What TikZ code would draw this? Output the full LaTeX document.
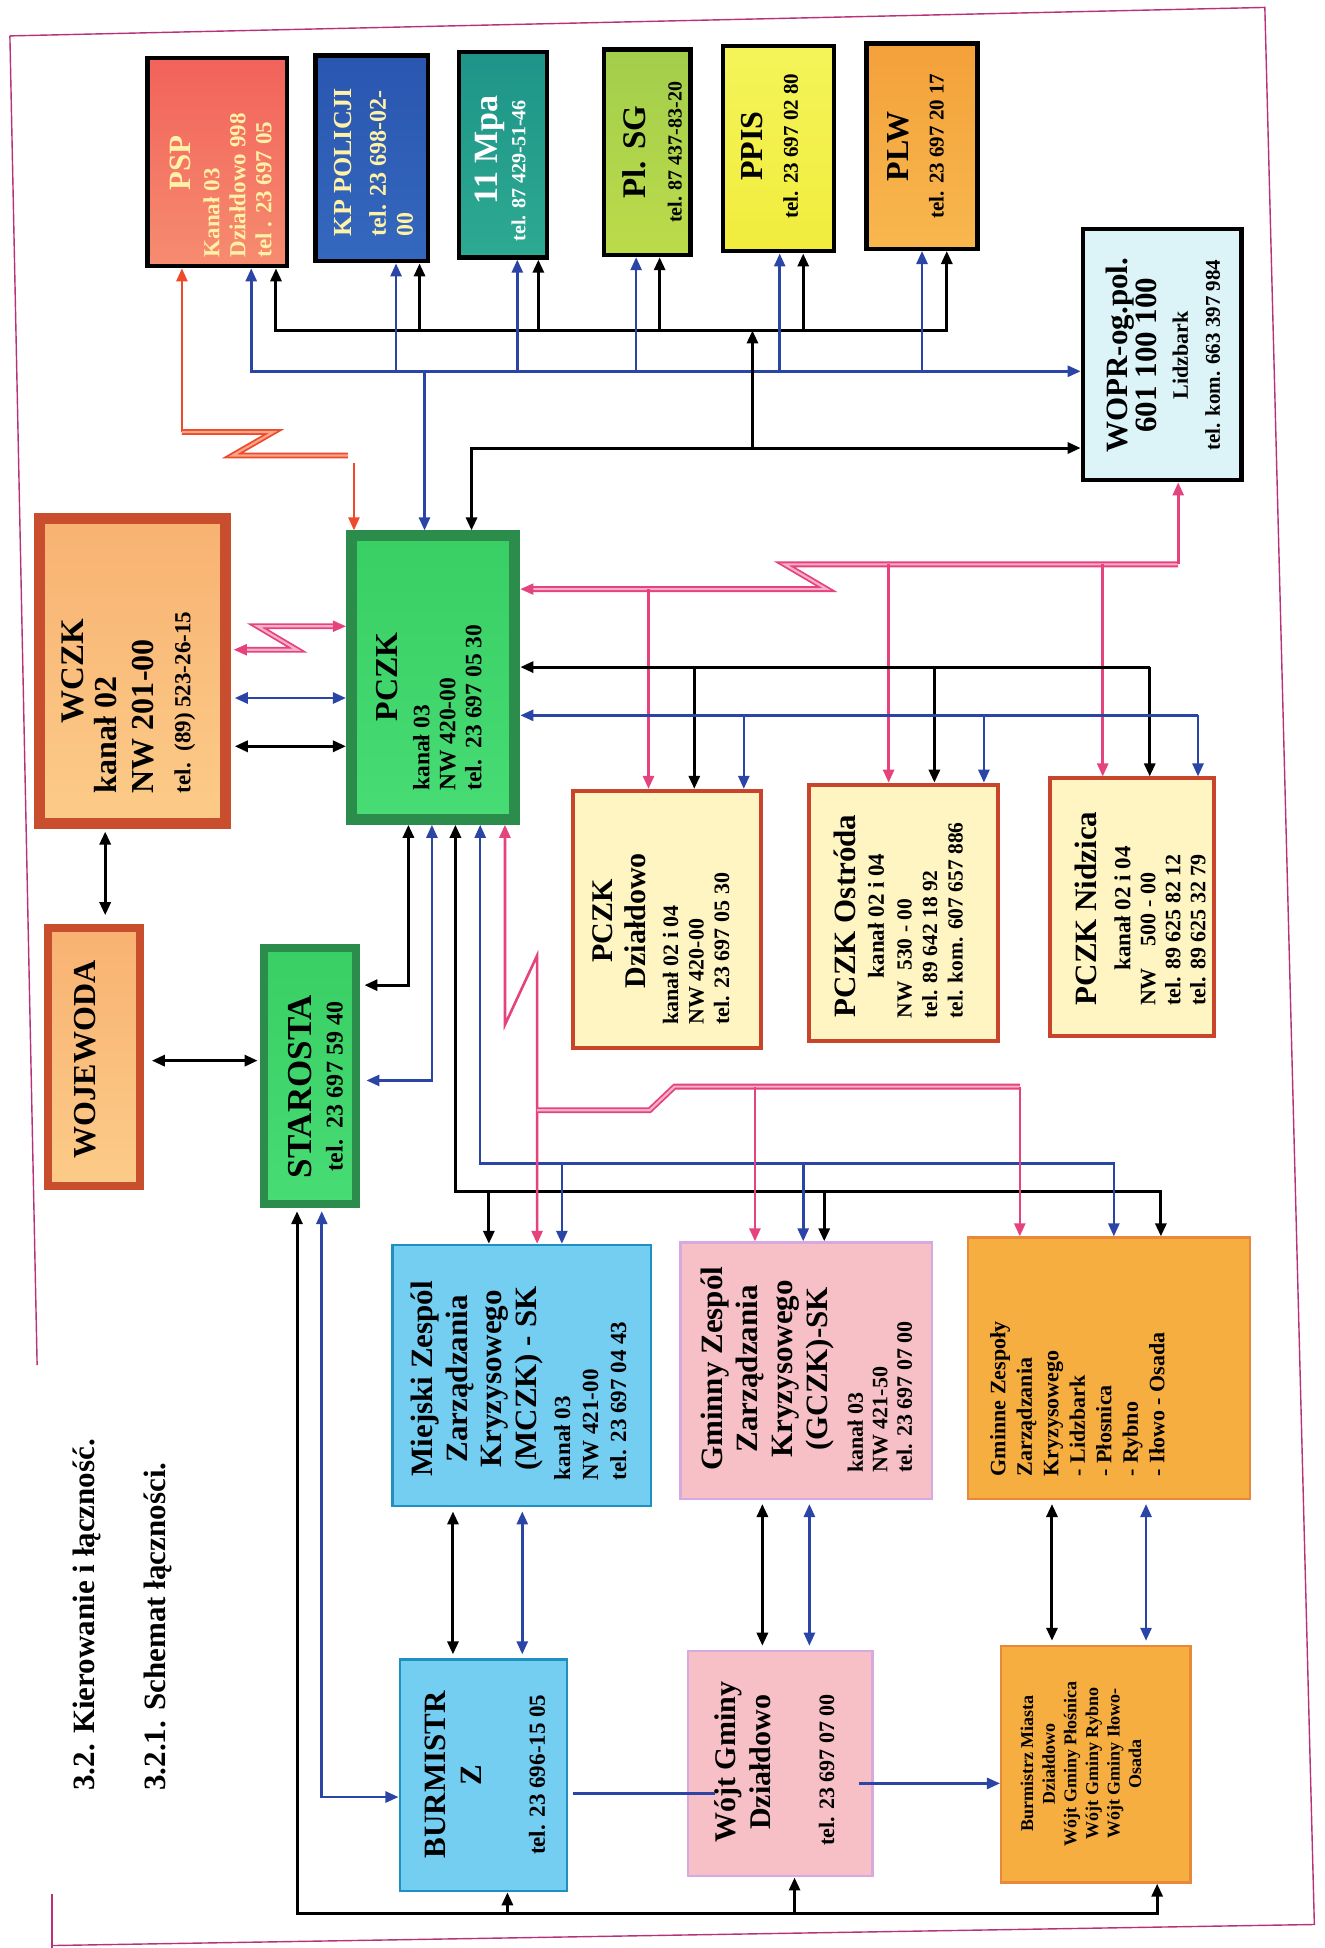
\documentclass[tikz,border=0pt]{standalone}
\usepackage{fontspec}
\setmainfont{Liberation Serif}
\usetikzlibrary{arrows.meta}
\definecolor{frm}{HTML}{B8327A}
\definecolor{bluc}{HTML}{2B45A6}
\definecolor{pnkc}{HTML}{E5437E}
\definecolor{pnkl}{HTML}{F7B0C8}
\definecolor{rddc}{HTML}{EE4A2A}
\definecolor{rddl}{HTML}{F9A58A}
\definecolor{ltyel}{HTML}{FFF1A6}
\definecolor{pspA}{HTML}{F2625A}\definecolor{pspB}{HTML}{F68C70}
\definecolor{kpA}{HTML}{2A56B0}\definecolor{kpB}{HTML}{3468BE}
\definecolor{mpaA}{HTML}{1E9488}\definecolor{mpaB}{HTML}{2DAA92}
\definecolor{sgA}{HTML}{A2CE4C}\definecolor{sgB}{HTML}{BCDB4A}
\definecolor{ppA}{HTML}{F4F45A}\definecolor{ppB}{HTML}{F1EC3C}
\definecolor{plA}{HTML}{F4A13A}\definecolor{plB}{HTML}{F8B74E}
\definecolor{wopf}{HTML}{DCF4F8}
\definecolor{brn}{HTML}{C94E2E}
\definecolor{orA}{HTML}{F8B272}\definecolor{orB}{HTML}{FCCB88}
\definecolor{grnD}{HTML}{2C8C4C}
\definecolor{grnA}{HTML}{38CF64}\definecolor{grnB}{HTML}{48DC74}
\definecolor{crm}{HTML}{FFF5C2}
\definecolor{crmB}{HTML}{C8452C}
\definecolor{mcf}{HTML}{74CEF2}\definecolor{mcb}{HTML}{2090C0}
\definecolor{gcf}{HTML}{F6C0C6}\definecolor{gcb}{HTML}{D8A8E0}
\definecolor{gmf}{HTML}{F6AE40}\definecolor{gmb}{HTML}{E8883A}
\newcommand{\myfs}[2]{\bfseries\fontsize{#1}{#2}\selectfont}
\newcommand{\mybox}[6]{%
  \pgfmathsetmacro{\bxw}{(#5-#3)*1.2374}%
  \pgfmathsetmacro{\bxh}{(#6-#4)*1.2374}%
  \node[#2, minimum width=\bxw pt, minimum height=\bxh pt] (#1) at ({(#3+#5)/2},{(#4+#6)/2}) {};}
\begin{document}
\begin{tikzpicture}[x=1.2374pt,y=-1.2374pt,
  >={Triangle[length=13pt,width=11pt]},
  topbox/.style={draw=black, line width=4.5pt, inner sep=0pt},
  thickbrn/.style={draw=brn, line width=11pt, inner sep=0pt, top color=orA, bottom color=orB},
  thickgrn/.style={draw=grnD, line width=11pt, inner sep=0pt, top color=grnA, bottom color=grnB},
  crmbox/.style={draw=crmB, line width=4pt, fill=crm, inner sep=0pt},
  mcbox/.style={draw=mcb, line width=2.5pt, fill=mcf, inner sep=0pt},
  gcbox/.style={draw=gcb, line width=2.5pt, fill=gcf, inner sep=0pt},
  gmbox/.style={draw=gmb, line width=2.5pt, fill=gmf, inner sep=0pt},
  tx/.style={rotate=90, inner sep=0pt, align=center},
  txl/.style={rotate=90, inner sep=0pt, align=left, anchor=west},
  blkL/.style={draw=black, line width=3pt},
  bluL/.style={draw=bluc, line width=2.6pt},
  pnkL/.style={draw=pnkc, line width=2.6pt},
  pnkD/.style={draw=pnkc, line width=1.8pt, double=pnkl, double distance=2.2pt},
  redL/.style={draw=rddc, line width=2.4pt},
  redD/.style={draw=rddc, line width=1.8pt, double=rddl, double distance=2.2pt},
  frame/.style={draw=frm, line width=1.4pt}]
\useasboundingbox (0,0) rectangle (1070,1574);
\fill[white] (0,0) rectangle (1070,1574);
% frame
\draw[frame] (8,29) -- (30,1103);
\draw[frame] (8,29) -- (1022,6) -- (1062,1555) -- (42,1572);
\draw[frame] (42,1530) -- (42,1574);
% top boxes
\mybox{psp}{topbox, top color=pspA, bottom color=pspB}{119}{47}{232}{215}
\mybox{kp}{topbox, top color=kpA, bottom color=kpB}{255}{45}{346}{211}
\mybox{mpa}{topbox, top color=mpaA, bottom color=mpaB}{371}{42}{442}{208}
\mybox{plsg}{topbox, top color=sgA, bottom color=sgB}{488}{40}{558}{206}
\mybox{ppis}{topbox, top color=ppA, bottom color=ppB}{584}{37}{674}{203}
\mybox{plw}{topbox, top color=plA, bottom color=plB}{700}{35}{790}{201}
\mybox{wopr}{topbox, fill=wopf}{875}{185}{1003}{388}
% main boxes
\mybox{wczk}{thickbrn}{32}{419}{182}{665}
\mybox{pczk}{thickgrn}{284}{433}{416}{662}
\mybox{woj}{thickbrn, line width=8pt}{39}{750}{113}{958}
\mybox{star}{thickgrn, line width=8pt}{213}{766}{288}{973}
\mybox{pdz}{crmbox}{463}{639}{615}{847}
\mybox{post}{crmbox}{654}{634}{806}{841}
\mybox{nid}{crmbox}{848}{629}{981}{837}
\mybox{mczk}{mcbox}{317}{1006}{526}{1217}
\mybox{gczk}{gcbox}{550}{1004}{753}{1211}
\mybox{gmn}{gmbox}{782}{1000}{1010}{1211}
\mybox{burm}{mcbox}{323}{1341}{458}{1528}
\mybox{wojt}{gcbox}{556}{1334}{705}{1516}
\mybox{bwr}{gmbox}{809}{1330}{962}{1521}
% texts top
\node[tx, text=ltyel, font=\myfs{31}{30}] (pspt1) at (145.5,132) {PSP};
\node[txl, text=ltyel, font=\myfs{23}{26}] (pspt2) at (192,208) {Kanał 03\\ Działdowo 998\\ tel . 23 697 05};
\node[txl, text=ltyel, font=\myfs{24}{27}] (kpt) at (302,191) {{\fontsize{26}{27}\selectfont KP POLICJI}\\[7pt] tel. 23 698-02-\\ 00};
\node[tx, text=white, font=\myfs{34}{30}] (mpat1) at (396,121) {11 Mpa};
\node[tx, text=white, font=\myfs{20}{27}] (mpat2) at (419,138) {tel. 87 429-51-46};
\node[tx, font=\myfs{20}{36}] (plsgt) at (527,123) {{\fontsize{33}{36}\selectfont Pl. SG}\\ tel. 87 437-83-20};
\node[tx, font=\myfs{21}{35}] (ppist) at (622,118) {{\fontsize{32}{35}\selectfont PPIS}\\ tel. 23 697 02 80};
\node[tx, font=\myfs{21}{35}] (plwt) at (740,118) {{\fontsize{32}{35}\selectfont PLW}\\ tel. 23 697 20 17};
\node[tx, font=\myfs{31}{29}] (woprt) at (940,287) {WOPR-og.pol.\\ 601 100 100\\[2pt] {\fontsize{22}{29}\selectfont Lidzbark}\\[3pt] {\fontsize{21}{29}\selectfont tel. kom. 663 397 984}};
% texts main
\node[tx, font=\myfs{33}{37}] (wczkt1) at (59,542) {WCZK};
\node[txl, font=\myfs{32}{37}] (wczkt2) at (117,641) {kanał 02\\ NW 201-00\\ {\fontsize{23}{37}\selectfont tel.\ \ (89) 523-26-15}};
\node[tx, font=\myfs{32}{31}] (pczkt1) at (312.5,547) {PCZK};
\node[txl, font=\myfs{23.5}{26}] (pczkt2) at (361.5,639) {kanał 03\\ NW 420-00\\ tel.\ \ 23 697 05 30};
\node[tx, font=\myfs{32}{32}] (wojt1) at (69,856) {WOJEWODA};
\node[tx, font=\myfs{24}{31}] (start1) at (255,878) {{\fontsize{35}{31}\selectfont STAROSTA}\\ tel.\ \ 23 697 59 40};
\node[tx, font=\myfs{30}{33}] (pdzt1) at (500.5,744) {PCZK\\ Działdowo};
\node[txl, font=\myfs{22}{25.5}] (pdzt2) at (562.5,828) {kanał 02 i 04\\ NW 420-00\\ tel. 23 697 05 30};
\node[tx, font=\myfs{23}{28.5}] (postt1) at (694,740) {{\fontsize{31}{28.5}\selectfont PCZK Ostróda}\\ kanał 02 i 04};
\node[txl, font=\myfs{21.5}{25.5}] (postt2) at (751.5,823) {NW\ \ 530 - 00\\ tel. 89 642 18 92\\ tel. kom. 607 657 886};
\node[tx, font=\myfs{23}{34}] (nidt1) at (891,734) {{\fontsize{31}{34}\selectfont PCZK Nidzica}\\ kanał 02 i 04};
\node[txl, font=\myfs{22}{25}] (nidt2) at (948,813) {NW\ \ \ \ 500 - 00\\ tel. 89 625 82 12\\ tel. 89 625 32 79};
\node[tx, font=\myfs{31}{34.5}] (mczkt1) at (385.5,1114) {Miejski Zespól\\ Zarządzania\\ Kryzysowego\\ (MCZK) - SK};
\node[txl, font=\myfs{23}{28}] (mczkt2) at (477,1196) {kanał 03\\ NW 421-00\\ tel. 23 697 04 43};
\node[tx, font=\myfs{31}{35}] (gczkt1) at (620,1106) {Gminny Zespól\\ Zarządzania\\ Kryzysowego\\ (GCZK)-SK};
\node[txl, font=\myfs{22}{24.5}] (gczkt2) at (711,1190) {kanał 03\\ NW 421-50\\ tel. 23 697 07 00};
\node[txl, font=\myfs{22}{26.5}] (gmnt) at (870.5,1193) {Gminne Zespoły\\ Zarządzania\\ Kryzysowego\\ - Lidzbark\\ - Płosnica\\ - Rybno\\ - Iłowo - Osada};
\node[tx, font=\myfs{31}{36}] (burmt1) at (366.5,1434) {BURMISTR\\ Z};
\node[tx, font=\myfs{23}{26}] (burmt2) at (434,1434) {tel. 23 696-15 05};
\node[tx, font=\myfs{30}{35}] (wojtt1) at (600,1424) {Wójt Gminy\\ Działdowo};
\node[tx, font=\myfs{22}{26}] (wojtt2) at (668,1430) {tel. 23 697 07 00};
\node[tx, font=\myfs{18}{21.6}] (bwrt) at (873.5,1425) {Burmistrz Miasta\\ Działdowo\\ Wójt Gminy Płośnica\\ Wójt Gminy Rybno\\ Wójt Gminy Iłowo-\\ Osada};
\node[txl, font=\myfs{31}{34}] (title1) at (70,1447) {3.2. Kierowanie i łączność.};
\node[txl, font=\myfs{31}{34}] (title2) at (128,1447) {3.2.1. Schemat łączności.};
% ---------- connectors top
\coordinate (kb1) at (223,267); \coordinate (kb2) at (765,267);
\draw[blkL,<->] (kb1 |- psp.south) -- (kb1) -- (kb2) -- (kb2 |- plw.south);
\foreach \n/\x in {kp/339, mpa/435, plsg/533, ppis/649} {
  \coordinate (kbx) at (\x,267); \draw[blkL,->] (kbx) -- (kbx |- \n.south);}
\coordinate (bb1) at (203,300);
\draw[bluL,<->] (bb1 |- psp.south) -- (bb1) -- (wopr.west |- bb1);
\foreach \n/\x in {kp/320, mpa/418, plsg/514, ppis/630, plw/745} {
  \coordinate (bbx) at (\x,300); \draw[bluL,->] (bbx) -- (bbx |- \n.south);}
\coordinate (bb3) at (343,300);
\draw[bluL,->] (bb3) -- (bb3 |- pczk.north);
\coordinate (k2a) at (381,362);
\draw[blkL,<->] (k2a |- pczk.north) -- (k2a) -- (wopr.west |- k2a);
\coordinate (k2b) at (608,362);
\draw[blkL,->] (k2b) -- (k2b |- kb1);
% red
\coordinate (r1) at (147,349); \coordinate (r2) at (221,349);
\coordinate (r3) at (188,368); \coordinate (r4) at (281,368);
\coordinate (r5) at (286,374);
\draw[redL,->] (r1) -- (r1 |- psp.south);
\draw[redD] (r1) -- (r2) -- (r3) -- (r4);
\draw[redL,->] (r5) -- (r5 |- pczk.north);
% WCZK - PCZK
\coordinate (pz1) at (208,506); \coordinate (pz2) at (240,525);
\draw[pnkD,<->, shorten <=3pt] (wczk.east |- pz2) -- (pz2) -- (pz1) -- (pczk.west |- pz1);
\draw[bluL,<->, shorten <=4pt] (wczk.east |- 0,564) -- (pczk.west |- 0,564);
\draw[blkL,<->, shorten <=4pt] (wczk.east |- 0,603) -- (pczk.west |- 0,603);
\draw[blkL,<->, shorten <=3pt, shorten >=9pt] (wczk.south -| 85,0) -- (woj.north -| 85,0);
\draw[blkL,<->, shorten <=8pt, shorten >=2pt] (woj.east |- 0,857) -- (star.west |- 0,857);
% PCZK - STAROSTA
\coordinate (sk1) at (330,796);
\draw[blkL,<->, shorten >=4pt] (sk1 |- pczk.south) -- (sk1) -- (star.east |- sk1);
\coordinate (sb1) at (349,873);
\draw[bluL,<->, shorten >=6pt] (sb1 |- pczk.south) -- (sb1) -- (star.east |- sb1);
% PCZK - lower boxes
\coordinate (kl1) at (368,963); \coordinate (kl2) at (938,963);
\draw[blkL,<->] (kl1 |- pczk.south) -- (kl1) -- (kl2) -- (kl2 |- gmn.north);
\coordinate (kl3) at (395,963); \draw[blkL,->] (kl3) -- (kl3 |- mczk.north);
\coordinate (kl4) at (666,963); \draw[blkL,->] (kl4) -- (kl4 |- gczk.north);
\coordinate (bl1) at (388,940); \coordinate (bl2) at (900,940);
\draw[bluL,<->] (bl1 |- pczk.south) -- (bl1) -- (bl2) -- (bl2 |- gmn.north);
\coordinate (bl3) at (454,940); \draw[bluL,->] (bl3) -- (bl3 |- mczk.north);
\coordinate (bl4) at (649,940); \draw[bluL,->] (bl4) -- (bl4 |- gczk.north);
\coordinate (pm1) at (408,828); \coordinate (pm2) at (434,772);
\draw[pnkL,<->] (pm1 |- pczk.south) -- (pm1) -- (pm2) -- (pm2 |- mczk.north);
\coordinate (ph1) at (434,897); \coordinate (ph2) at (525,897);
\coordinate (ph3) at (545,878); \coordinate (ph4) at (824,878);
\draw[pnkD] (ph1) -- (ph2) -- (ph3) -- (ph4);
\coordinate (ph5) at (610,878); \draw[pnkL,->] (ph5) -- (ph5 |- gczk.north);
\draw[pnkL,->] (ph4) -- (ph4 |- gmn.north);
% PCZK right
\coordinate (pr1) at (668,476); \coordinate (pr2) at (634,456); \coordinate (pr3) at (952,456);
\draw[pnkD,<-] (pczk.east |- pr1) -- (pr1) -- (pr2) -- (pr3);
\draw[pnkL,->] (pr3) -- (pr3 |- wopr.south);
\coordinate (pb1) at (524,476); \draw[pnkL,->] (pb1) -- (pb1 |- pdz.north);
\coordinate (pb2) at (718,456); \draw[pnkL,->] (pb2) -- (pb2 |- post.north);
\coordinate (pb3) at (891,456); \draw[pnkL,->] (pb3) -- (pb3 |- nid.north);
\coordinate (kr1) at (929,539); \draw[blkL,->] (kr1) -- (pczk.east |- kr1);
\coordinate (kr2) at (561,539); \draw[blkL,->] (kr2) -- (kr2 |- pdz.north);
\coordinate (kr3) at (755,539); \draw[blkL,->] (kr3) -- (kr3 |- post.north);
\draw[blkL,->] (kr1) -- (kr1 |- nid.north);
\coordinate (br1) at (968,578); \draw[bluL,->] (br1) -- (pczk.east |- br1);
\coordinate (br2) at (601,578); \draw[bluL,->] (br2) -- (br2 |- pdz.north);
\coordinate (br3) at (795,578); \draw[bluL,->] (br3) -- (br3 |- post.north);
\draw[bluL,->] (br1) -- (br1 |- nid.north);
% middle - bottom rows
\foreach \a/\b/\x/\s in {mczk/burm/366/blkL, mczk/burm/422/bluL, gczk/wojt/616/blkL, gczk/wojt/654/bluL, gmn/bwr/850/blkL, gmn/bwr/926/bluL} {
  \coordinate (vv) at (\x,1280);
  \draw[\s,<->, shorten <=4pt, shorten >=4pt] (vv |- \a.south) -- (vv |- \b.north);}
\coordinate (bw1) at (578,1449);
\draw[bluL, shorten <=5pt] (burm.east |- bw1) -- (bw1);
\coordinate (wb1) at (694,1441);
\draw[bluL,->] (wb1) -- (bwr.west |- wb1);
\coordinate (sb2) at (260,1452);
\draw[bluL,<->, shorten <=3pt] (sb2 |- star.south) -- (sb2) -- (burm.west |- sb2);
\coordinate (kbb1) at (240,1546); \coordinate (kbb2) at (935,1546);
\draw[blkL,<->, shorten <=3pt] (kbb1 |- star.south) -- (kbb1) -- (kbb2) -- (kbb2 |- bwr.south);
\coordinate (kbb3) at (410,1546); \draw[blkL,->] (kbb3) -- (kbb3 |- burm.south);
\coordinate (kbb4) at (642,1546); \draw[blkL,->] (kbb4) -- (kbb4 |- wojt.south);
\end{tikzpicture}
\end{document}
